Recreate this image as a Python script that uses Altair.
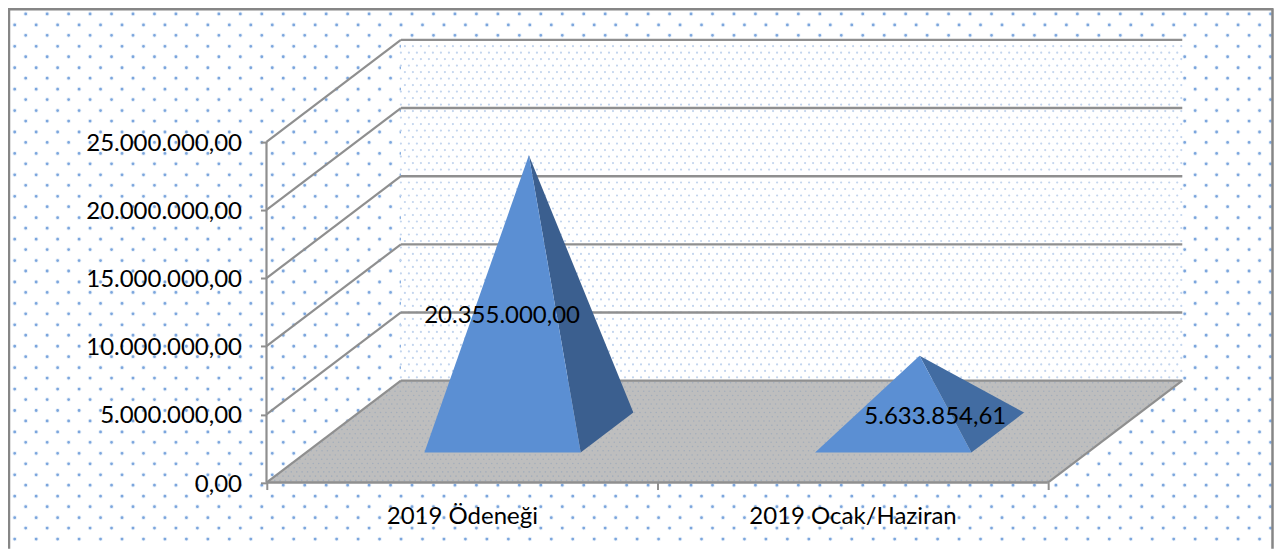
import json
import altair as alt
import pandas as pd

# ---------- chart values ----------
CATEGORIES = ["2019 Ödeneği", "2019 Ocak/Haziran"]
VALUES = [20355000.00, 5633854.61]
VALUE_LABELS = ["20.355.000,00", "5.633.854,61"]
TICKS = [0, 5000000, 10000000, 15000000, 20000000, 25000000]
TICK_LABELS = ["0,00", "5.000.000,00", "10.000.000,00", "15.000.000,00", "20.000.000,00", "25.000.000,00"]
FRONT_COLORS = ["#5b8fd3", "#5b8fd3"]
SIDE_COLORS = ["#3b5f8f", "#426ca2"]

# ---------- layout of the oblique projection ----------
W, H = 1267, 541          # whole chart
PX_CAT = 391.0            # pixels per category along the floor
PX_VAL = 341.0 / 25e6     # pixels per value unit
X0, Y0 = 258.7, 474.7     # chart pixel of the front-left floor corner
DX = 134.5 / PX_CAT       # depth shift in category units
DY = 102.0 / PX_VAL       # depth shift in value units
FONT = "Lato"
FS = 24
LINE = "#8f8f8f"


def ux(px):  # chart pixel -> category units
    return (px - X0) / PX_CAT


def vy(py):  # chart pixel -> value units
    return (Y0 - py) / PX_VAL


x_scale = alt.Scale(domain=[ux(0), ux(W)], range=[0, W], nice=False, zero=False)
y_scale = alt.Scale(domain=[vy(H), vy(0)], range=[H, 0], nice=False, zero=False)

# value axis (real axis, moved into the chart)
labels_js = json.dumps(TICK_LABELS)
y_axis = alt.Axis(
    values=TICKS, orient="left", offset=-X0, domain=False, grid=False, title=None, zindex=1,
    tickColor=LINE, tickWidth=2, tickSize=6, labelPadding=19, labelOffset=1.5, labelLimit=400,
    labelFont=FONT, labelFontSize=FS, labelColor="#000000",
    labelExpr=f"{labels_js}[round(datum.value/5000000)]", labelBaseline="middle",
)
# category axis (real axis: ticks at the whole units, labels at the half units)
names_js = json.dumps(CATEGORIES)
x_axis = alt.Axis(
    values=[0, 0.5, 1, 1.5, 2], orient="bottom", offset=-(H - Y0), domain=False, grid=False, title=None, zindex=1,
    tickColor=LINE, tickWidth=2, tickSize=7, labelPadding=15, labelLimit=400,
    tickOpacity={"condition": {"test": "datum.value % 1 == 0", "value": 1}, "value": 0},
    labelFont=FONT, labelFontSize=FS, labelColor="#000000",
    labelExpr=f"datum.value % 1 == 0 ? '' : {names_js}[floor(datum.value)]",
    labelOverlap=False, labelFlush=False,
)
X = alt.X("x:Q", scale=x_scale, axis=x_axis)
Y = alt.Y("y:Q", scale=y_scale, axis=y_axis)


def proj(u, v, d):
    return {"x": u + d * DX, "y": v + d * DY}


def polygon(rows, color):
    df = pd.DataFrame([dict(p, i=i) for i, p in enumerate(rows)])
    return (
        alt.Chart(df)
        .mark_line(filled=True, fill=color, stroke=None, interpolate="linear-closed", clip=True)
        .encode(x=X, y=Y, order=alt.Order("i:Q"))
    )


def segments(rows, color, width, **kw):
    df = pd.DataFrame([
        {"x": a["x"], "y": a["y"], "x2": b["x"]} for a, b in rows
    ])
    return (
        alt.Chart(df)
        .mark_rule(color=color, strokeWidth=width, clip=True, **kw)
        .encode(x=X, y=Y, x2="x2:Q")
    )


def slanted(a, b, color, width):
    df = pd.DataFrame([dict(a, i=0), dict(b, i=1)])
    return (
        alt.Chart(df)
        .mark_line(color=color, strokeWidth=width, clip=True)
        .encode(x=X, y=Y, order=alt.Order("i:Q"))
    )


layers = []

# chart-area dot texture: two staggered row families, each with a soft halo
STEP_Y = 10.72
STEP_X = 21.47
rows_a = [{"x": ux(25.7 - 8), "y": vy(13.7 - 8 + 2 * k * STEP_Y)} for k in range(25)]
rows_b = [{"x": ux(14.7 - 8), "y": vy(24.7 - 8 + 2 * k * STEP_Y)} for k in range(25)]
for rows in (rows_a, rows_b):
    df = pd.DataFrame([dict(r, x2=ux(W)) for r in rows])
    for width, op in ((4.6, 0.14), (2.8, 0.8)):
        layers.append(
            alt.Chart(df)
            .mark_rule(color="#5f92d6", strokeWidth=width, strokeDash=[0.01, STEP_X], strokeCap="round",
                       opacity=op, clip=True)
            .encode(x=X, y=Y, x2="x2:Q")
        )

# back wall
TOP = TICKS[-1]
layers.append(polygon([proj(0, 0, 1), proj(2, 0, 1), proj(2, TOP, 1), proj(0, TOP, 1)], "#ffffff"))

# wall fine dots
wall_step = 6.5 / PX_VAL
n_wall = int(TOP / wall_step)
for phase in (0, 1):
    rows = [proj(0, (2 * k + phase + 0.5) * wall_step, 1) for k in range(n_wall // 2 + 1)]
    df = pd.DataFrame([dict(r, x2=2 + DX) for r in rows if r["y"] < TOP + DY])
    layers.append(
        alt.Chart(df)
        .mark_rule(color="#c3d5ee", strokeWidth=2.2, strokeDash=[0.01, 8.0], strokeCap="round",
                   strokeDashOffset=phase * 4.0, clip=True)
        .encode(x=X, y=Y, x2="x2:Q")
    )

# gridlines on the back wall and the side wall
for t in TICKS:
    if t > 0:
        layers.append(segments([(proj(0, t, 1), proj(2, t, 1))], LINE, 2.4))
        layers.append(slanted(proj(0, t, 0), proj(0, t, 1), LINE, 2.2))

# floor
layers.append(polygon([proj(0, 0, 0), proj(2, 0, 0), proj(2, 0, 1), proj(0, 0, 1)], "#bebebe"))
floor_rows = 24
for phase in (0, 1):
    rows = []
    for k in range(phase, floor_rows, 2):
        d = (k + 0.5) / floor_rows
        rows.append((proj(0, 0, d), proj(2, 0, d)))
    layers.append(
        segments(rows, "#a4aebb", 1.6, strokeDash=[0.01, 5.4], strokeCap="round",
                 strokeDashOffset=phase * 2.7)
    )

# floor edges
layers.append(segments([(proj(0, 0, 1), proj(2, 0, 1))], LINE, 2.4))
layers.append(slanted(proj(0, 0, 0), proj(0, 0, 1), LINE, 2.2))
layers.append(slanted(proj(2, 0, 0), proj(2, 0, 1), LINE, 2.2))
layers.append(segments([(proj(0, 0, 0), proj(2, 0, 0))], LINE, 2.6))

# side wall front edge (value axis line)
axis_line = pd.DataFrame({"x": [0.0], "y": [0.0], "y2": [float(TOP)]})
layers.append(
    alt.Chart(axis_line).mark_rule(color=LINE, strokeWidth=2.2).encode(x=X, y=Y, y2="y2:Q")
)

# pyramids
CENTRE = 0.503
HALF = 0.2
D_FRONT, D_BACK = 0.294, 0.686
D_MID = (D_FRONT + D_BACK) / 2
for k, val in enumerate(VALUES):
    c = k + CENTRE
    left = proj(c - HALF, 0, D_FRONT)
    right = proj(c + HALF, 0, D_FRONT)
    back = proj(c + HALF, 0, D_BACK)
    apex = proj(c, val, D_MID)
    layers.append(polygon([right, back, apex], SIDE_COLORS[k]))
    layers.append(polygon([left, right, apex], FRONT_COLORS[k]))

# data labels
label_df = pd.DataFrame({
    "x": [ux(502.5 - 8), ux(936 - 8)],
    "y": [vy(316 - 8), vy(417 - 8)],
    "t": VALUE_LABELS,
})
layers.append(
    alt.Chart(label_df)
    .mark_text(font=FONT, fontSize=FS, color="#000000", align="center", baseline="middle")
    .encode(x=X, y=Y, text="t:N")
)

# chart border (open at the bottom, as in the picture)
border = pd.DataFrame({"x": [ux(1.0), ux(W - 1.5)], "y": [vy(H), vy(H)], "y2": [vy(0), vy(0)]})
layers.append(
    alt.Chart(border).mark_rule(color="#868686", strokeWidth=2.5).encode(x=X, y=Y, y2="y2:Q")
)
top_edge = pd.DataFrame({"x": [ux(0)], "x2": [ux(W - 1)], "y": [vy(1.0)]})
layers.append(
    alt.Chart(top_edge).mark_rule(color="#868686", strokeWidth=2.5).encode(x=X, y=Y, x2="x2:Q")
)

chart = (
    alt.layer(*layers)
    .properties(width=W, height=H, padding=0, background="#ffffff",
                autosize=alt.AutoSizeParams(type="none"))
    .configure_view(stroke=None)
)

chart.save("out.html", embed_options={"renderer": "svg", "actions": False})
